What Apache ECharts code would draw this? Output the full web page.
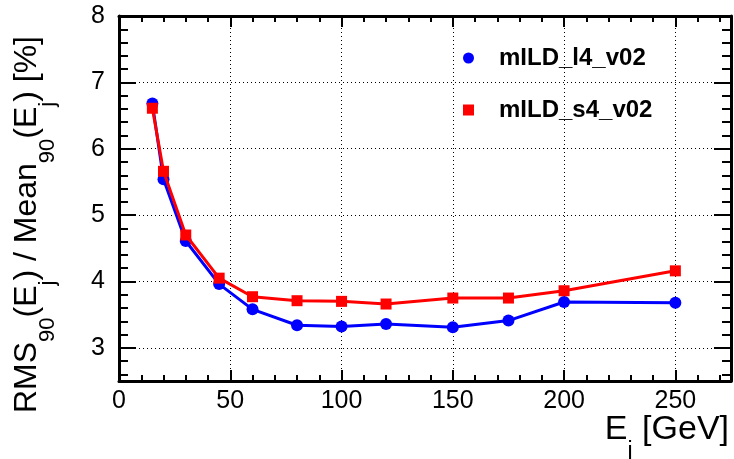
<!DOCTYPE html>
<html>
<head>
<meta charset="utf-8">
<script src="https://cdn.jsdelivr.net/npm/echarts@6/dist/echarts.min.js"></script>
<style>
  html, body { margin: 0; padding: 0; background: #fff; }
  #chart { width: 734px; height: 459px; }
</style>
</head>
<body>
<div id="chart"></div>
<script>
// Jet energy resolution vs jet energy for two detector models
const energies = [15, 20, 30, 45, 60, 80, 100, 120, 150, 175, 200, 250];
const resL4 = [6.68, 5.54, 4.61, 3.96, 3.58, 3.34, 3.32, 3.36, 3.31, 3.41, 3.69, 3.68];
const resS4 = [6.61, 5.66, 4.70, 4.05, 3.77, 3.71, 3.70, 3.66, 3.75, 3.75, 3.86, 4.16];
const seriesNames = ['mILD_l4_v02', 'mILD_s4_v02'];

// Tick positions (major ticks carry labels and grid lines)
const xMajor = [0, 50, 100, 150, 200, 250];
const xMinor = [10, 20, 30, 40, 60, 70, 80, 90, 110, 120, 130, 140, 160, 170, 180, 190,
                210, 220, 230, 240, 260, 270];
const yMajor = [3, 4, 5, 6, 7, 8];
const yMinor = [2.6, 2.8, 3.2, 3.4, 3.6, 3.8, 4.2, 4.4, 4.6, 4.8, 5.2, 5.4, 5.6, 5.8,
                6.2, 6.4, 6.6, 6.8, 7.2, 7.4, 7.6, 7.8];

const FONT = 'Liberation Sans';
const xRange = { min: 0, max: 275 };
const yRange = { min: 2.5, max: 8 };

function pts(ys) { return energies.map((e, i) => [e, ys[i]]); }

function tickAxis(range, position, values, len, withLine, withLabel, withGrid) {
  return {
    type: 'value',
    position: position,
    min: range.min,
    max: range.max,
    axisLine: { show: withLine, onZero: false, lineStyle: { color: '#000', width: 3 } },
    axisTick: { show: true, inside: true, length: len, customValues: values,
                lineStyle: { color: '#000', width: 2 } },
    axisLabel: withLabel
      ? { show: true, customValues: values, fontSize: 25, fontFamily: FONT, color: '#000',
          margin: position === 'bottom' ? 8 : 14 }
      : { show: false },
    splitLine: withGrid
      ? { show: true, lineStyle: { color: '#000', width: 1, type: [1, 3] } }
      : { show: false },
    minorTick: { show: false },
    minorSplitLine: { show: false }
  };
}

// Rich-text styles for axis titles: main text and lowered subscripts
function titleRich(main, sub, subLine) {
  return {
    m: { fontSize: main, lineHeight: main, fontFamily: FONT, color: '#000', verticalAlign: 'top' },
    s: { fontSize: sub, lineHeight: subLine, fontFamily: FONT, color: '#000', verticalAlign: 'bottom' }
  };
}

const chart = echarts.init(document.getElementById('chart'), null, { renderer: 'canvas' });

chart.setOption({
  animation: false,
  backgroundColor: '#fff',
  grid: { left: 119, right: 3, top: 16, bottom: 78, containLabel: false },
  xAxis: [
    tickAxis(xRange, 'bottom', xMajor, 11, true, true, true),
    tickAxis(xRange, 'bottom', xMinor, 6, false, false, false),
    tickAxis(xRange, 'top', xMajor, 11, true, false, false),
    tickAxis(xRange, 'top', xMinor, 6, false, false, false)
  ],
  yAxis: [
    tickAxis(yRange, 'left', yMajor, 17, true, true, true),
    tickAxis(yRange, 'left', yMinor, 9, false, false, false),
    tickAxis(yRange, 'right', yMajor, 17, true, false, false),
    tickAxis(yRange, 'right', yMinor, 9, false, false, false)
  ],
  legend: {
    orient: 'vertical',
    left: 463,
    top: 43,
    padding: 0,
    itemWidth: 11,
    itemHeight: 11,
    itemGap: 22,
    data: [
      { name: seriesNames[0], icon: 'circle' },
      { name: seriesNames[1], icon: 'rect' }
    ],
    textStyle: {
      fontSize: 24, fontWeight: 'bold', fontFamily: FONT, color: '#000',
      lineHeight: 24, padding: [6, 0, 0, 20]
    }
  },
  series: [
    {
      name: seriesNames[0],
      type: 'line',
      xAxisIndex: 0, yAxisIndex: 0,
      data: pts(resL4),
      symbol: 'circle',
      symbolSize: 12,
      itemStyle: { color: '#0000ff' },
      lineStyle: { color: '#0000ff', width: 3 },
      z: 3
    },
    {
      name: seriesNames[1],
      type: 'line',
      xAxisIndex: 0, yAxisIndex: 0,
      data: pts(resS4),
      symbol: 'rect',
      symbolSize: 11,
      itemStyle: { color: '#ff0000' },
      lineStyle: { color: '#ff0000', width: 3 },
      z: 4
    }
  ],
  graphic: [
    {
      type: 'text',
      x: 11,
      y: 413,
      rotation: Math.PI / 2,
      style: {
        text: '{m|RMS}{s|90}{m|(E}{s|j}{m|) / Mean}{s|90}{m|(E}{s|j}{m|) [%]}',
        rich: titleRich(32, 22, 48),
        align: 'left',
        verticalAlign: 'top'
      }
    },
    {
      type: 'text',
      x: 729,
      y: 413,
      style: {
        text: '{m|E}{s|j}{m| [GeV]}',
        rich: titleRich(34, 23, 50),
        align: 'right',
        verticalAlign: 'top'
      }
    }
  ]
});
</script>
</body>
</html>
